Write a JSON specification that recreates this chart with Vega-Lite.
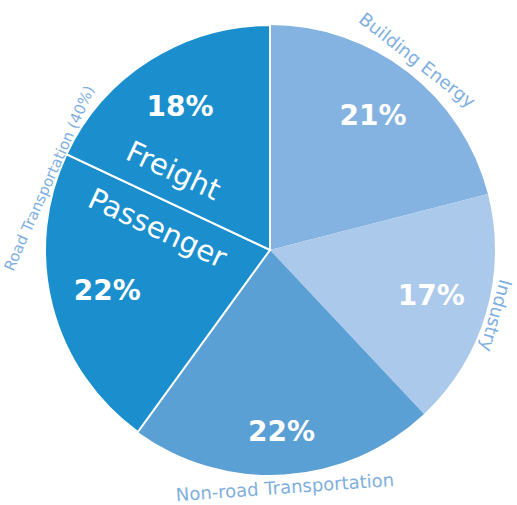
{
  "$schema": "https://vega.github.io/schema/vega-lite/v6.json",
  "width": 494,
  "height": 500,
  "padding": {"left": 23, "top": 0, "right": 0, "bottom": 5},
  "autosize": {"type": "none"},
  "background": "white",
  "config": {"view": {"stroke": null}, "text": {"font": "DejaVu Sans"}},
  "data": {
    "values": [
      {"sector": "Building Energy", "outer": "Building Energy", "share": 0.21, "idx": 1},
      {"sector": "Industry", "outer": "Industry", "share": 0.17, "idx": 2},
      {"sector": "Non-road Transportation", "outer": "Non-road Transportation", "share": 0.22, "idx": 3},
      {"sector": "Passenger", "outer": "Road Transportation (40%)", "share": 0.22, "idx": 4},
      {"sector": "Freight", "outer": "Road Transportation (40%)", "share": 0.18, "idx": 5}
    ]
  },
  "layer": [
    {
      "mark": {"type": "arc", "outerRadius": 225, "stroke": "white"},
      "encoding": {
        "theta": {"field": "share", "type": "quantitative", "stack": true},
        "order": {"field": "idx", "type": "quantitative"},
        "color": {
          "field": "sector",
          "type": "nominal",
          "scale": {
            "domain": ["Building Energy", "Industry", "Non-road Transportation", "Passenger", "Freight"],
            "range": ["#84b3e1", "#abc9eb", "#5aa0d5", "#1b8fce", "#1b8fce"]
          },
          "legend": null
        },
        "strokeWidth": {"condition": {"test": "datum.outer === 'Road Transportation (40%)'", "value": 2}, "value": 0}
      }
    },
    {
      "mark": {"type": "text", "radius": 168, "fontSize": 28, "fontWeight": "bold", "color": "white"},
      "encoding": {
        "theta": {"field": "share", "type": "quantitative", "stack": true},
        "order": {"field": "idx", "type": "quantitative"},
        "text": {"field": "share", "type": "quantitative", "format": ".0%"},
        "opacity": {"condition": {"test": "datum.sector === 'Non-road Transportation'", "value": 0}, "value": 1}
      }
    },
    {
      "mark": {"type": "text", "radius": 183, "fontSize": 28, "fontWeight": "bold", "color": "white"},
      "encoding": {
        "theta": {"field": "share", "type": "quantitative", "stack": true},
        "order": {"field": "idx", "type": "quantitative"},
        "text": {"field": "share", "type": "quantitative", "format": ".0%"},
        "opacity": {"condition": {"test": "datum.sector === 'Non-road Transportation'", "value": 1}, "value": 0}
      }
    },
    {
      "transform": [
        {"aggregate": [
          {"op": "sum", "field": "share", "as": "share"},
          {"op": "min", "field": "idx", "as": "idx"},
          {"op": "min", "field": "sector", "as": "first"},
          {"op": "max", "field": "sector", "as": "second"}
        ], "groupby": ["outer"]}
      ],
      "encoding": {
        "theta": {"field": "share", "type": "quantitative", "stack": true},
        "order": {"field": "idx", "type": "quantitative"},
        "text": {"field": "outer", "type": "nominal"}
      },
      "layer": [
        {
          "mark": {"type": "text", "radius": 239, "fontSize": 18, "color": "#7fb0e0", "angle": 38},
          "encoding": {"opacity": {"condition": {"test": "datum.outer === 'Building Energy'", "value": 1}, "value": 0}}
        },
        {
          "mark": {"type": "text", "radius": 234, "fontSize": 18, "color": "#7fb0e0", "angle": 106},
          "encoding": {"opacity": {"condition": {"test": "datum.outer === 'Industry'", "value": 1}, "value": 0}}
        },
        {
          "mark": {"type": "text", "radius": 239, "fontSize": 18, "color": "#7fb0e0", "angle": -4},
          "encoding": {"opacity": {"condition": {"test": "datum.outer === 'Non-road Transportation'", "value": 1}, "value": 0}}
        },
        {
          "mark": {"type": "text", "radius": 232, "fontSize": 15, "color": "#7fb0e0", "angle": -66},
          "encoding": {"opacity": {"condition": {"test": "datum.outer === 'Road Transportation (40%)'", "value": 1}, "value": 0}}
        },
        {
          "mark": {"type": "text", "radius": 122, "angle": 25, "dy": -45, "fontSize": 29, "color": "white"},
          "encoding": {
            "text": {"field": "first", "type": "nominal"},
            "opacity": {"condition": {"test": "datum.outer === 'Road Transportation (40%)'", "value": 1}, "value": 0}
          }
        },
        {
          "mark": {"type": "text", "radius": 112, "angle": 25, "dy": 15, "fontSize": 29, "color": "white"},
          "encoding": {
            "text": {"field": "second", "type": "nominal"},
            "opacity": {"condition": {"test": "datum.outer === 'Road Transportation (40%)'", "value": 1}, "value": 0}
          }
        }
      ]
    }
  ]
}
